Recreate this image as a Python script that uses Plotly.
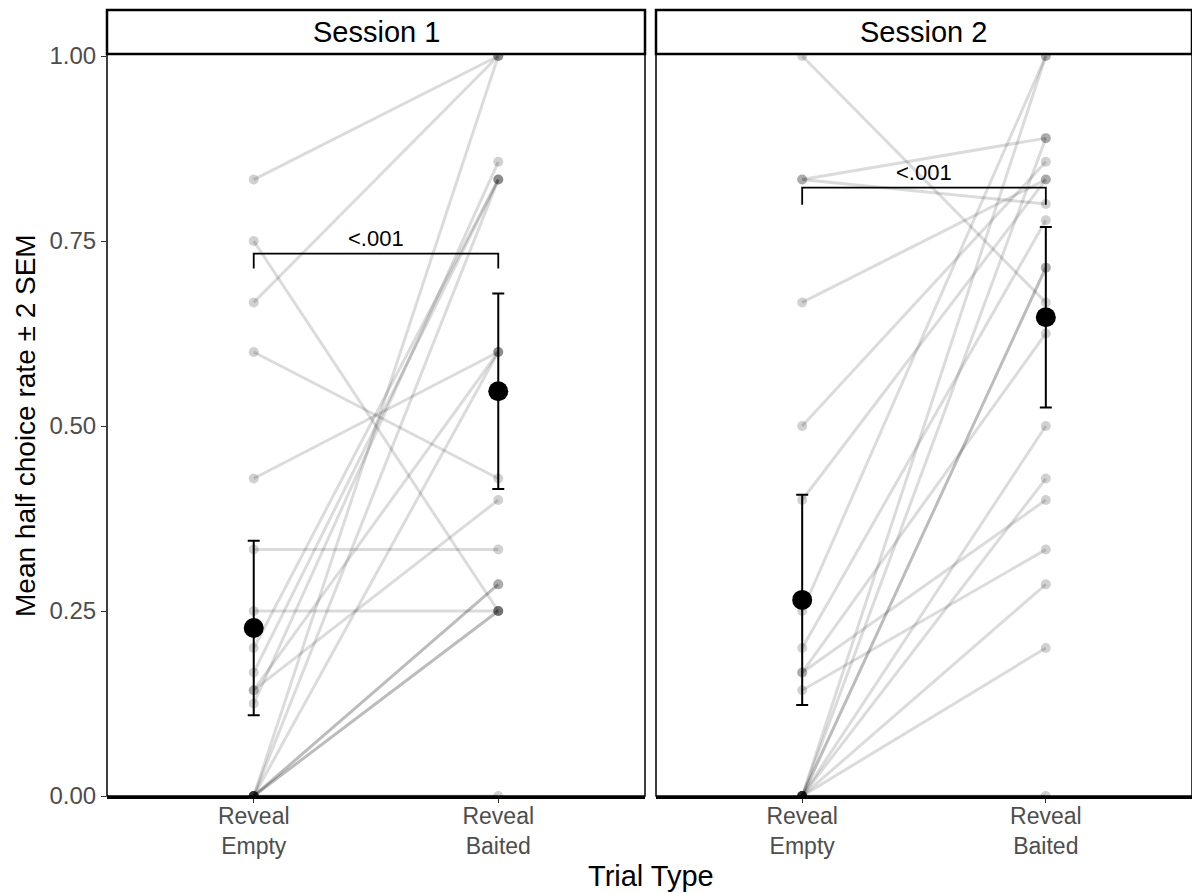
import plotly.graph_objects as go

# ---------------- data ----------------
categories = ["Reveal<br>Empty", "Reveal<br>Baited"]
sessions = ["Session 1", "Session 2"]

s1_empty = [0.833, 0.75, 0.667, 0.60, 0.429, 0.333, 0.25, 0.20, 0.167, 0.143, 0.143, 0.125,
            0, 0, 0, 0, 0, 0, 0, 0]
s1_baited = [1.0, 0.25, 1.0, 0.429, 0.60, 0.333, 0.25, 0.833, 0.833, 0.60, 0.40, 0.857,
             1.0, 0.833, 0.60, 0.286, 0.286, 0.25, 0.25, 0]

s2_empty = [1.0, 0.833, 0.833, 0.667, 0.5, 0.4, 0.25, 0.2, 0.167, 0.167, 0.143,
            0, 0, 0, 0, 0, 0, 0, 0, 0]
s2_baited = [0.667, 0.889, 0.80, 0.833, 0.857, 0.833, 1.0, 0.778, 0.625, 0.40, 0.333,
             0.714, 1.0, 0.889, 0.714, 0.5, 0.429, 0.286, 0.2, 0]

s1_mean = [0.227, 0.547]
s1_err = [0.118, 0.132]
s2_mean = [0.265, 0.647]
s2_err = [0.142, 0.122]

sig_label = ["<.001", "<.001"]
sig_y = [0.733, 0.822]
sig_drop = [0.020, 0.023]

# ---------------- layout helpers ----------------
W, H = 1192, 893
FONT = "Liberation Sans, Arial, sans-serif"


def px_x(p):
    return p / W


def px_y(p):
    return 1 - p / H


panel_x = [(107, 645), (656, 1192)]
plot_top, plot_bot, strip_top = 54, 796, 10

fig = go.Figure()

data = [(s1_empty, s1_baited, s1_mean, s1_err), (s2_empty, s2_baited, s2_mean, s2_err)]
pos = [1, 2]

for i, (emp, bai, mn, er) in enumerate(data):
    xa = "x" if i == 0 else "x2"
    ya = "y" if i == 0 else "y2"
    # paired lines
    for e, b in zip(emp, bai):
        fig.add_trace(go.Scatter(x=pos, y=[e, b], mode="lines", xaxis=xa, yaxis=ya,
                                 line=dict(color="rgba(0,0,0,0.14)", width=3),
                                 hoverinfo="skip", showlegend=False))
    # individual points
    fig.add_trace(go.Scatter(x=[pos[0]] * len(emp) + [pos[1]] * len(bai), y=emp + bai,
                             mode="markers", xaxis=xa, yaxis=ya,
                             marker=dict(color="rgba(0,0,0,0.18)", size=10, line=dict(width=0)),
                             showlegend=False))
    # means with error bars
    fig.add_trace(go.Scatter(x=pos, y=mn, mode="markers", xaxis=xa, yaxis=ya,
                             marker=dict(color="black", size=20),
                             error_y=dict(type="data", array=er, visible=True,
                                          color="black", thickness=2, width=6),
                             showlegend=False))
    # significance bracket
    y0 = sig_y[i]
    d = sig_drop[i]
    fig.add_shape(type="path", xref=xa, yref=ya,
                  path=f"M {pos[0]},{y0 - d} L {pos[0]},{y0} L {pos[1]},{y0} L {pos[1]},{y0 - d}",
                  line=dict(color="black", width=1.8), layer="above")
    fig.add_annotation(x=1.5, y=y0, xref=xa, yref=ya, text=sig_label[i], showarrow=False,
                       xanchor="center", yanchor="bottom", yshift=1,
                       font=dict(size=22, color="black", family=FONT))

    # panel border
    x0p, x1p = panel_x[i]
    fig.add_shape(type="rect", xref="paper", yref="paper",
                  x0=px_x(x0p), x1=px_x(x1p), y0=px_y(plot_bot), y1=px_y(plot_top),
                  line=dict(color="black", width=1.5), layer="above")
    # strip
    fig.add_shape(type="rect", xref="paper", yref="paper",
                  x0=px_x(x0p), x1=px_x(x1p), y0=px_y(plot_top), y1=px_y(strip_top),
                  line=dict(color="black", width=2.5), fillcolor="white", layer="above")
    fig.add_annotation(x=(px_x(x0p) + px_x(x1p)) / 2, y=(px_y(plot_top) + px_y(strip_top)) / 2,
                       xref="paper", yref="paper", text=sessions[i], showarrow=False,
                       xanchor="center", yanchor="middle",
                       font=dict(size=29, color="black", family=FONT))

axis_common = dict(range=[0.4, 2.6], tickvals=pos, ticktext=categories, automargin=False,
                   showgrid=False, zeroline=False, showline=True, linecolor="black", linewidth=2.5,
                   ticks="outside", ticklen=4, tickcolor="#333333", tickwidth=1.2,
                   ticklabelstandoff=-6,
                   tickfont=dict(size=23, color="#4d4d4d", family=FONT), fixedrange=True)
yaxis_common = dict(range=[0, 1.0027], showgrid=False, zeroline=False, showline=False,
                    automargin=False,
                    domain=[px_y(plot_bot), px_y(plot_top)], fixedrange=True)

fig.update_layout(
    width=W, height=H,
    margin=dict(l=0, r=0, t=0, b=0, autoexpand=False),
    paper_bgcolor="white", plot_bgcolor="white",
    font=dict(family=FONT),
    xaxis=dict(domain=[px_x(panel_x[0][0]), px_x(panel_x[0][1])], anchor="y", **axis_common),
    xaxis2=dict(domain=[px_x(panel_x[1][0]), px_x(panel_x[1][1])], anchor="y2", **axis_common),
    yaxis=dict(anchor="x", tickvals=[0, 0.25, 0.5, 0.75, 1.0], tickformat=".2f",
               ticks="outside", ticklen=5, tickcolor="#333333", tickwidth=1.2,
               tickfont=dict(size=24, color="#4d4d4d", family=FONT), **yaxis_common),
    yaxis2=dict(anchor="x2", showticklabels=False, ticks="", **yaxis_common),
    showlegend=False,
)

fig.add_annotation(x=px_x(651), y=px_y(876), xref="paper", yref="paper", text="Trial Type",
                   xanchor="center", yanchor="middle",
                   showarrow=False, font=dict(size=29, color="black", family=FONT))
fig.add_annotation(x=px_x(26), y=px_y(426), xref="paper", yref="paper",
                   text="Mean half choice rate ± 2 SEM", textangle=-90,
                   xanchor="center", yanchor="middle",
                   showarrow=False, font=dict(size=28, color="black", family=FONT))

fig.write_html("out.html")
